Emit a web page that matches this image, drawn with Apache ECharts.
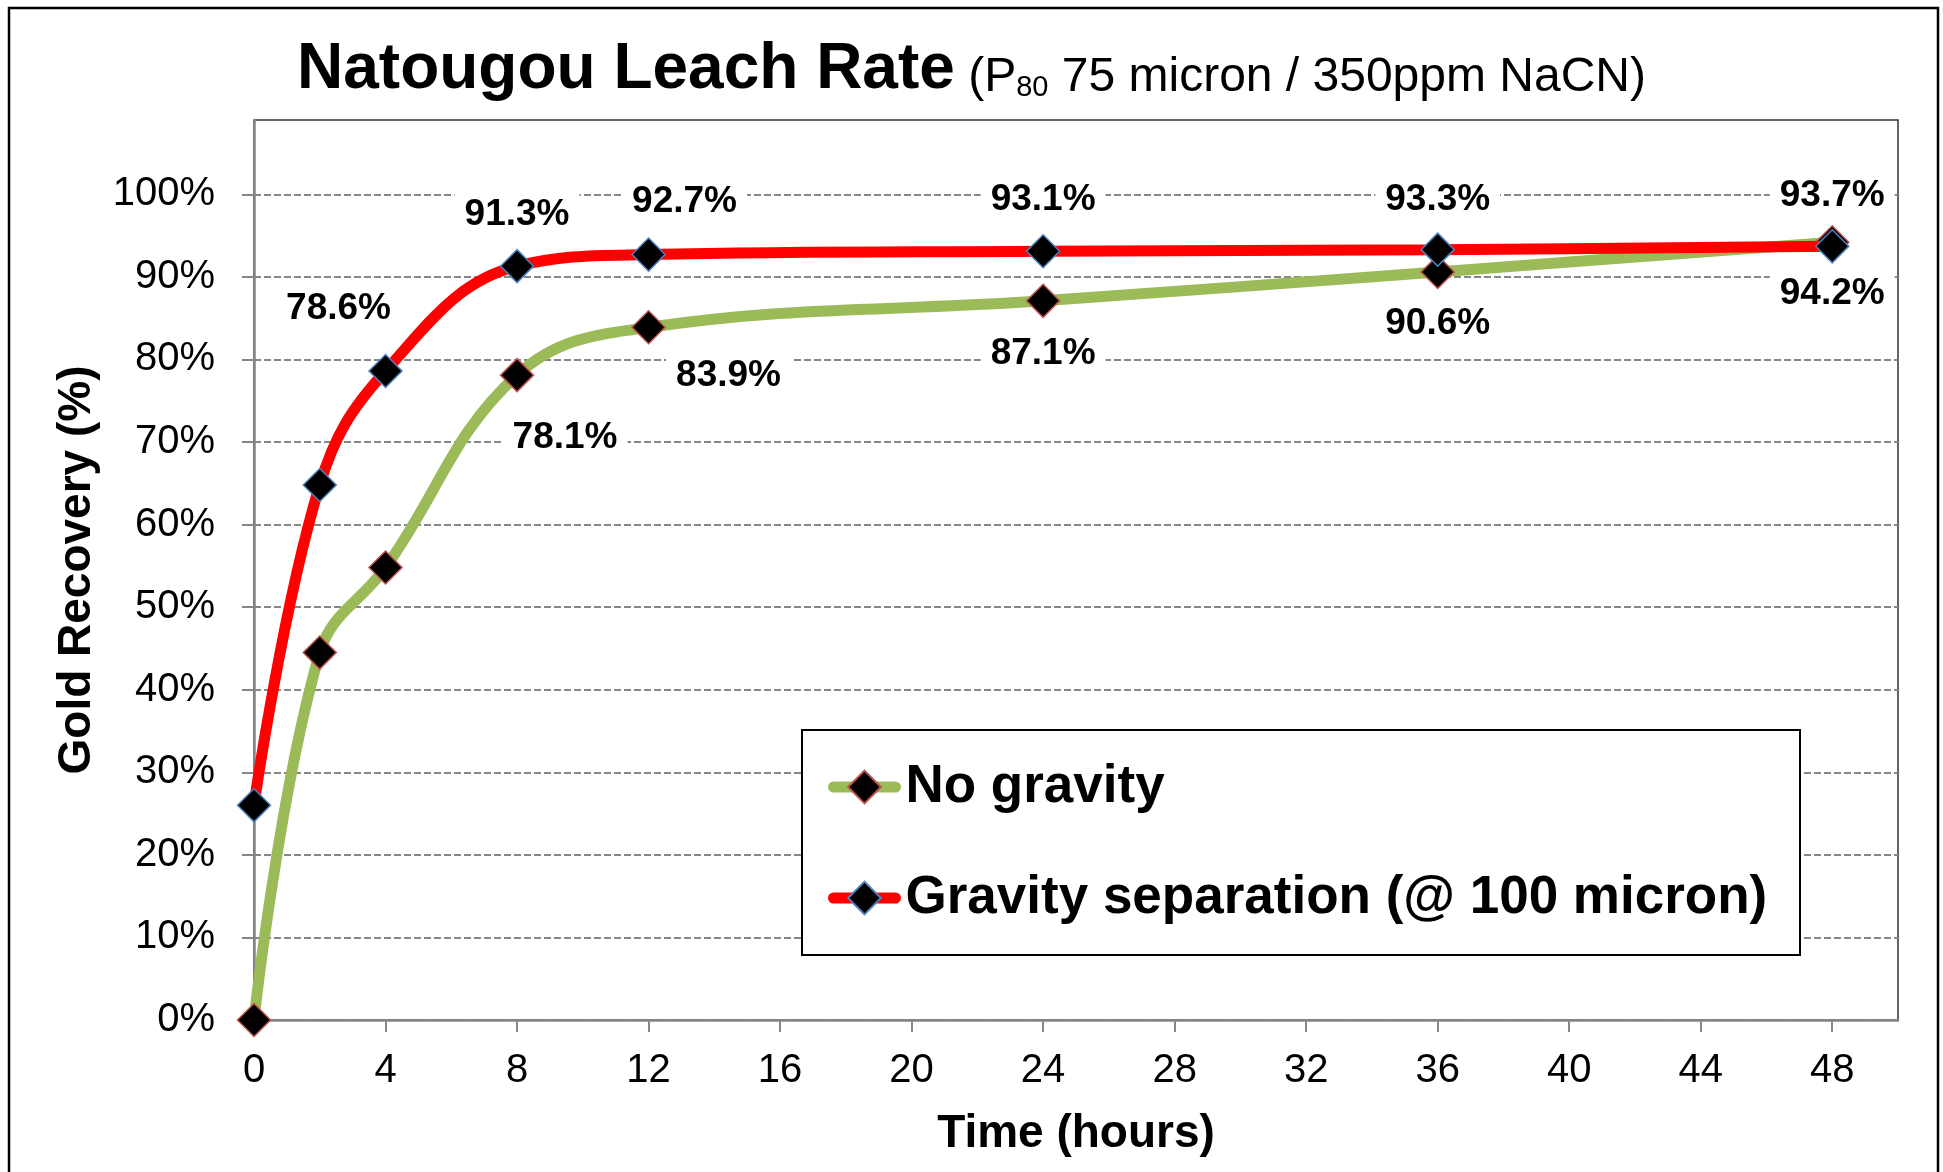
<!DOCTYPE html>
<html>
<head>
<meta charset="utf-8">
<script src="https://cdn.jsdelivr.net/npm/echarts@6/dist/echarts.min.js"></script>
<style>
  html, body { margin: 0; padding: 0; background: #fff; }
  #chart { width: 1943px; height: 1172px; }
</style>
</head>
<body>
<div id="chart"></div>
<script>
// leach time (hours) and gold recovery (%)
const hours = [0, 2, 4, 8, 12, 24, 36, 48];
const noGravity = [0, 44.5, 54.8, 78.1, 83.9, 87.1, 90.6, 94.2];
const gravitySep = [26.0, 64.8, 78.6, 91.3, 92.7, 93.1, 93.3, 93.7];
const seriesNames = ['No gravity', 'Gravity separation (@ 100 micron)'];
const xTickValues = [0, 4, 8, 12, 16, 20, 24, 28, 32, 36, 40, 44, 48];
const yTickValues = [0, 10, 20, 30, 40, 50, 60, 70, 80, 90, 100];

// which points carry a data label, and where the label sits (px offset from the marker)
const noGravityLabelOffsets = [null, null, null, [48, 63], [80, 49], [0, 53], [0, 52], [0, 52]];
const gravityLabelOffsets = [null, null, [-47, -62], [0, -51], [36, -53], [0, -51], [0, -50], [0, -51]];

const FONT = '"Liberation Sans", Arial, sans-serif';
const GREEN = '#9bbb59';
const RED = '#ff0000';
const AXIS_GREY = '#868686';

const chart = echarts.init(document.getElementById('chart'));

function buildData(values, offsets) {
  return hours.map((h, i) => {
    const item = { value: [h, values[i]] };
    if (offsets[i]) {
      item.label = {
        show: true,
        position: 'inside',
        offset: offsets[i],
        formatter: p => p.value[1].toFixed(1) + '%',
        fontFamily: FONT,
        fontSize: 37,
        fontWeight: 'bold',
        color: '#000',
        backgroundColor: '#fff',
        padding: [3, 10]
      };
    }
    return item;
  });
}

const option = {
  backgroundColor: '#fff',
  animation: false,
  title: {
    left: 'center',
    top: 40,
    padding: 0,
    text: '{a|Natougou Leach Rate}{b| (P}{c|80}{b| 75 micron / 350ppm NaCN)}',
    textStyle: {
      rich: {
        a: { fontFamily: FONT, fontSize: 64, fontWeight: 'bold', color: '#000', lineHeight: 62, verticalAlign: 'bottom' },
        b: { fontFamily: FONT, fontSize: 48, fontWeight: 'normal', color: '#000', lineHeight: 52, verticalAlign: 'bottom' },
        c: { fontFamily: FONT, fontSize: 29, fontWeight: 'normal', color: '#000', lineHeight: 8, verticalAlign: 'bottom' }
      }
    }
  },
  grid: {
    left: 254,
    right: 45,
    top: 120,
    bottom: 152,
    show: true,
    borderColor: '#333',
    borderWidth: 1.5,
    backgroundColor: 'transparent'
  },
  legend: {
    data: seriesNames,
    orient: 'vertical',
    left: 828,
    top: 757,
    padding: 0,
    itemWidth: 62,
    itemHeight: 41,
    itemGap: 51,
    z: 5,
    lineStyle: { width: 11, cap: 'round' },
    textStyle: {
      fontFamily: FONT,
      fontSize: 53,
      fontWeight: 'bold',
      color: '#000',
      lineHeight: 60,
      padding: [0, 0, 0, 5]
    }
  },
  graphic: [
    {
      type: 'rect',
      silent: true,
      z: 3,
      shape: { x: 802, y: 730, width: 998, height: 225 },
      style: { fill: '#fff', stroke: '#000', lineWidth: 2 }
    },
    {
      type: 'rect',
      silent: true,
      z: 10,
      shape: { x: 9, y: 8, width: 1929, height: 1250 },
      style: { fill: 'none', stroke: '#000', lineWidth: 2.5 }
    }
  ],
  xAxis: {
    type: 'value',
    min: 0,
    max: 50,
    interval: 4,
    name: 'Time (hours)',
    nameLocation: 'middle',
    nameGap: 91,
    nameTextStyle: { fontFamily: FONT, fontSize: 46, fontWeight: 'bold', color: '#000' },
    axisLine: { show: true, onZero: false, lineStyle: { color: AXIS_GREY, width: 2.5 } },
    axisTick: { show: true, length: 12, customValues: xTickValues, lineStyle: { color: AXIS_GREY, width: 2 } },
    axisLabel: {
      customValues: xTickValues,
      margin: 31,
      fontFamily: FONT,
      fontSize: 40,
      color: '#000'
    },
    splitLine: { show: false }
  },
  yAxis: {
    type: 'value',
    min: 0,
    max: 109,
    interval: 10,
    name: 'Gold Recovery (%)',
    nameLocation: 'middle',
    nameGap: 154,
    nameTextStyle: { fontFamily: FONT, fontSize: 46, fontWeight: 'bold', color: '#000' },
    axisLine: { show: true, lineStyle: { color: AXIS_GREY, width: 2.5 } },
    axisTick: { show: true, length: 12, customValues: yTickValues, lineStyle: { color: AXIS_GREY, width: 2 } },
    axisLabel: {
      customValues: yTickValues,
      formatter: '{value}%',
      margin: 39,
      fontFamily: FONT,
      fontSize: 40,
      color: '#000'
    },
    splitLine: { show: true, lineStyle: { color: AXIS_GREY, width: 2, type: [7, 3] } }
  },
  series: [
    {
      name: seriesNames[0],
      type: 'line',
      smooth: 0.4,
      symbol: 'diamond',
      symbolSize: 33,
      lineStyle: { color: GREEN, width: 11, cap: 'round' },
      itemStyle: { color: '#000', borderColor: '#c0504d', borderWidth: 1.5 },
      emphasis: { disabled: true },
      data: buildData(noGravity, noGravityLabelOffsets),
      z: 2
    },
    {
      name: seriesNames[1],
      type: 'line',
      smooth: 0.4,
      symbol: 'diamond',
      symbolSize: 33,
      lineStyle: { color: RED, width: 11, cap: 'round' },
      itemStyle: { color: '#000', borderColor: '#4f81bd', borderWidth: 1.5 },
      emphasis: { disabled: true },
      data: buildData(gravitySep, gravityLabelOffsets),
      z: 3
    }
  ]
};

chart.setOption(option);
</script>
</body>
</html>
